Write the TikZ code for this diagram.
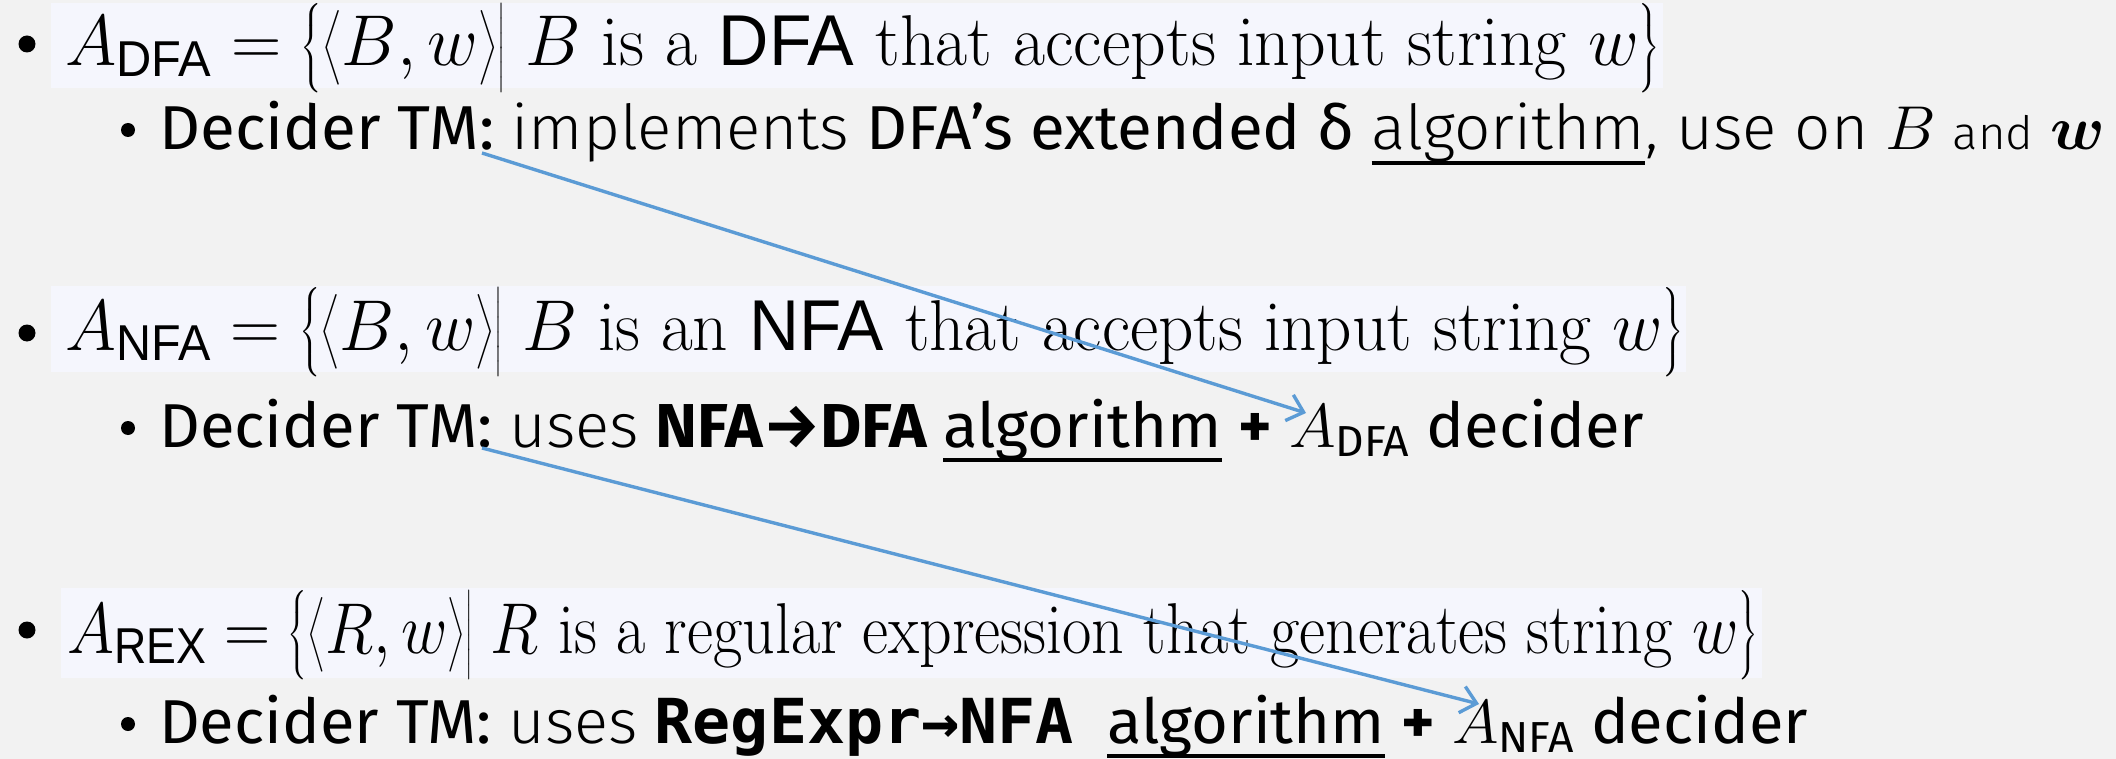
\RequirePackage{fix-cm}
\documentclass[tikz,border=0pt]{standalone}
\usepackage{amsmath}
\usepackage{graphicx}
\usepackage{fontspec}
\newfontfamily\fira{Fira Sans}
\newfontfamily\firalight{Fira Sans Light}
\newfontfamily\helv{Liberation Sans}
\newfontfamily\monob{DejaVu Sans Mono}
\usetikzlibrary{arrows.meta}

\definecolor{pagebg}{HTML}{F2F2F2}
\definecolor{setbg}{HTML}{F5F6FD}
\definecolor{linkblue}{HTML}{5B9BD5}

\newcommand{\sname}[1]{\text{\helv #1}}
% thick underline that sits at the foot of the descenders
\newcommand{\thickul}[1]{\setbox0\hbox{#1}%
  \rlap{\rule[-0.235em]{\wd0}{0.065em}}\box0\relax}

\tikzset{
  setline/.style={anchor=base west, inner sep=0pt, font=\fontsize{72}{86}\selectfont},
  tmline/.style={anchor=base west, inner sep=0pt, font=\fira\fontsize{62}{74}\selectfont},
  mainbullet/.style={fill=black},
  conn/.style={draw=linkblue, line width=3.4pt,
    -{Straight Barb[length=15pt,width=27pt,line width=3.4pt]}},
}

\begin{document}
\begin{tikzpicture}[x=1pt,y=-1pt]
  \useasboundingbox (0,0) rectangle (2116,759);
  \fill[pagebg] (0,0) rectangle (2116,759);

  % shaded backgrounds behind the set definitions
  \fill[setbg] (51,3) rectangle (1663,88);
  \fill[setbg] (51,286) rectangle (1686,372);
  \fill[setbg] (61,588) rectangle (1762,678);

  % bullets
  \fill[mainbullet] (27,44) circle[radius=8.5pt];
  \fill[mainbullet] (128,130) circle[radius=7pt];
  \fill[mainbullet] (27,333) circle[radius=8.5pt];
  \fill[mainbullet] (128,428) circle[radius=7pt];
  \fill[mainbullet] (27,630) circle[radius=8.5pt];
  \fill[mainbullet] (128,724) circle[radius=7pt];

  % A_DFA
  \node[setline] (adfa) at (65,66) {\resizebox{1595pt}{\height}{%
    $A_{\sname{DFA}} = \bigl\{\bigl\langle B, w\bigr\rangle\bigr|\; B$ is a {\helv DFA} that accepts input string $w\bigr\}$}};
  \node[tmline] (tmdfa) at (159,150) {\resizebox{1946pt}{\height}{%
    Decider TM: {\firalight implements} DFA’s extended δ {\firalight\thickul{algorithm}, use on} $B$ {\firalight\fontsize{46}{55}\selectfont and} $\boldsymbol{w}$}};

  % A_NFA
  \node[setline] (anfa) at (65,350) {\resizebox{1619pt}{\height}{%
    $A_{\sname{NFA}} = \bigl\{\bigl\langle B, w\bigr\rangle\bigr|\; B$ is an {\helv NFA} that accepts input string $w\bigr\}$}};
  \node[tmline] (tmnfa) at (159,447) {\resizebox{1485pt}{\height}{%
    Decider TM: {\firalight uses} {\bfseries NFA→DFA} \thickul{algorithm} {\bfseries +} $A_{\text{\fira DFA}}$ decider}};

  % A_REX
  \node[setline] (arex) at (67,653) {\resizebox{1691pt}{\height}{%
    $A_{\sname{REX}} = \bigl\{\bigl\langle R, w\bigr\rangle\bigr|\; R$ is a regular expression that generates string $w\bigr\}$}};
  \node[tmline] (tmrex) at (159,743) {\resizebox{1649pt}{\height}{%
    Decider TM: {\firalight uses} {\monob\bfseries RegExpr→NFA}\ \ \thickul{algorithm} {\bfseries +} $A_{\text{\fira NFA}}$ decider}};

  % connectors from each decider to the decider it reuses
  \coordinate (from1) at (482,153);
  \coordinate (to1) at (1306,413);
  \coordinate (from2) at (482,448);
  \coordinate (to2) at (1479,704);
  \draw[conn] (from1) -- (to1);
  \draw[conn] (from2) -- (to2);
\end{tikzpicture}
\end{document}
